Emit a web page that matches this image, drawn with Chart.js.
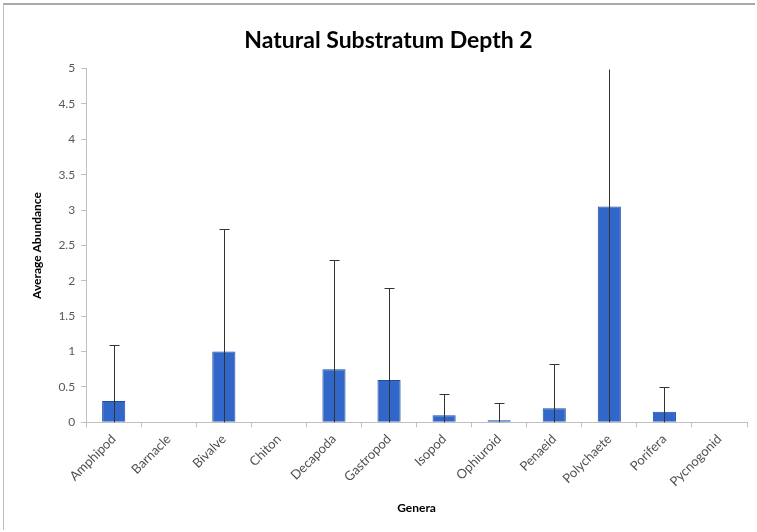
<!DOCTYPE html>
<html>
<head>
<meta charset="utf-8">
<script src="https://cdn.jsdelivr.net/npm/chart.js@4"></script>
<style>
  html, body { margin: 0; padding: 0; background: #ffffff; }
  #wrap { position: absolute; left: 3px; top: 3px; width: 752px; height: 527px; border-top: 2px solid #a8a8a8; border-left: 1px solid #c0c0c0; box-sizing: border-box; }
  canvas { display: block; }
</style>
</head>
<body>
<div id="wrap"><canvas id="c" width="751" height="525"></canvas></div>
<script>
const categories = ["Amphipod", "Barnacle", "Bivalve", "Chiton", "Decapoda", "Gastropod", "Isopod", "Ophiuroid", "Penaeid", "Polychaete", "Porifera", "Pycnogonid"];
const averages   = [0.30, 0, 1.00, 0, 0.75, 0.60, 0.10, 0.03, 0.20, 3.05, 0.15, 0];
const errorUpper = [0.80, 0, 1.73, 0, 1.55, 1.30, 0.30, 0.25, 0.62, 2.00, 0.35, 0];
const yTicks     = [0, 0.5, 1, 1.5, 2, 2.5, 3, 3.5, 4, 4.5, 5];

const errorBars = {
  id: 'errorBars',
  afterDatasetsDraw(chart) {
    const ctx = chart.ctx;
    const meta = chart.getDatasetMeta(0);
    const y = chart.scales.y;
    ctx.save();
    ctx.strokeStyle = '#333333';
    ctx.lineWidth = 1;
    meta.data.forEach((bar, i) => {
      const err = errorUpper[i];
      if (!err) return;
      const x = Math.round(bar.x) + 0.5;
      const top = Math.min(averages[i] + err, y.max);
      const y1 = Math.round(y.getPixelForValue(top)) + 0.5;
      ctx.beginPath();
      ctx.moveTo(x, y.getPixelForValue(0));
      ctx.lineTo(x, y1);
      if (averages[i] + err <= y.max) {
        ctx.moveTo(x - 5, y1);
        ctx.lineTo(x + 5, y1);
      }
      ctx.stroke();
    });
    ctx.restore();
  }
};

new Chart(document.getElementById('c'), {
  type: 'bar',
  data: {
    labels: categories,
    datasets: [{
      data: averages,
      backgroundColor: '#3067c8',
      borderColor: '#1f4d9e',
      borderWidth: 1,
      barPercentage: 0.42,
      categoryPercentage: 1.0
    }]
  },
  options: {
    responsive: false,
    animation: false,
    layout: { padding: { left: 26, right: 8, top: 4, bottom: 15 } },
    plugins: {
      legend: { display: false },
      tooltip: { enabled: false },
      title: {
        display: true,
        text: 'Natural Substratum Depth 2',
        color: '#000000',
        font: { family: 'Lato', size: 23, weight: 'bold' },
        padding: { top: 18, bottom: 14 }
      }
    },
    scales: {
      x: {
        grid: { display: true, drawOnChartArea: false, offset: true, color: '#bfbfbf', tickLength: 5 },
        border: { display: true, color: '#bfbfbf' },
        ticks: {
          maxRotation: 45, minRotation: 45, autoSkip: false,
          color: '#505050', font: { family: 'Lato', size: 13 }, padding: 4
        },
        title: {
          display: true, text: 'Genera', color: '#000000',
          font: { family: 'Lato', size: 12, weight: 'bold' }, padding: { top: 7, bottom: 0 }
        }
      },
      y: {
        min: 0, max: 5,
        afterBuildTicks(axis) { axis.ticks = yTicks.map(v => ({ value: v })); },
        grid: { display: true, drawOnChartArea: false, color: '#bfbfbf', tickLength: 5 },
        border: { display: true, color: '#bfbfbf' },
        ticks: {
          color: '#595959', font: { family: 'Lato', size: 12 }, padding: 6,
          callback: v => String(v)
        },
        title: {
          display: true, text: 'Average Abundance', color: '#000000',
          font: { family: 'Lato', size: 12, weight: 'bold' }, padding: { top: 0, bottom: 8 }
        }
      }
    }
  },
  plugins: [errorBars]
});
</script>
</body>
</html>
